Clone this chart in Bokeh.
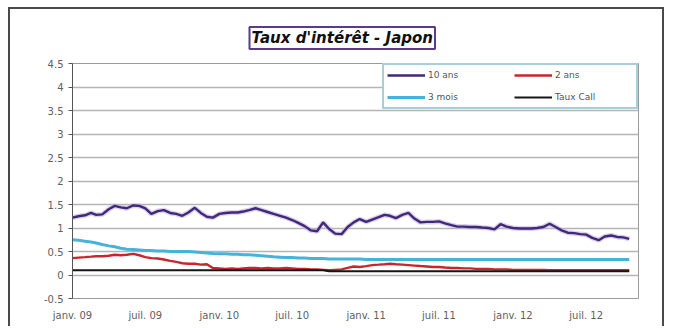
from datetime import datetime
from bokeh.plotting import figure
from bokeh.models import ColumnDataSource, FixedTicker, Legend, LegendItem, Title
from bokeh.embed import file_html
from bokeh.resources import INLINE

# ---------------- data ----------------
# semi-monthly observation dates, Jan 2009 .. Oct 2012
dates = []
for m in range(46):
    yy = 2009 + m // 12
    mm = m % 12 + 1
    dates.append(datetime(yy, mm, 1))
    dates.append(datetime(yy, mm, 16))

taux_10ans = [
    1.22, 1.25, 1.27, 1.32, 1.28, 1.29, 1.40, 1.47, 1.44, 1.42, 1.48, 1.47,
    1.42, 1.30, 1.36, 1.38, 1.32, 1.30, 1.26, 1.33, 1.43, 1.32, 1.24, 1.22,
    1.30, 1.32, 1.33, 1.33, 1.35, 1.38, 1.42, 1.38, 1.34, 1.30, 1.26, 1.22,
    1.17, 1.11, 1.04, 0.95, 0.93, 1.12, 0.98, 0.88, 0.87, 1.02, 1.12, 1.19,
    1.13, 1.18, 1.23, 1.28, 1.26, 1.21, 1.28, 1.32, 1.20, 1.12, 1.13, 1.13,
    1.14, 1.10, 1.06, 1.03, 1.03, 1.02, 1.02, 1.01, 1.00, 0.97, 1.08, 1.03,
    1.00, 0.99, 0.99, 0.99, 1.00, 1.02, 1.09, 1.02, 0.95, 0.90, 0.89, 0.87,
    0.86, 0.79, 0.74, 0.82, 0.84, 0.81, 0.80, 0.77,
]
taux_2ans = [
    0.36, 0.37, 0.38, 0.39, 0.40, 0.40, 0.41, 0.43, 0.42, 0.43, 0.45, 0.42,
    0.38, 0.36, 0.35, 0.33, 0.30, 0.28, 0.25, 0.24, 0.24, 0.22, 0.23, 0.15,
    0.14, 0.13, 0.14, 0.13, 0.14, 0.15, 0.15, 0.14, 0.15, 0.14, 0.14, 0.15,
    0.14, 0.13, 0.13, 0.12, 0.12, 0.11, 0.10, 0.11, 0.12, 0.15, 0.18, 0.17,
    0.19, 0.21, 0.22, 0.23, 0.24, 0.23, 0.22, 0.21, 0.20, 0.19, 0.18, 0.17,
    0.17, 0.16, 0.15, 0.15, 0.14, 0.14, 0.13, 0.13, 0.13, 0.12, 0.12, 0.12,
    0.11, 0.11, 0.11, 0.11, 0.11, 0.11, 0.10, 0.10, 0.10, 0.10, 0.10, 0.10,
    0.10, 0.10, 0.10, 0.10, 0.10, 0.10, 0.10, 0.10,
]
taux_3mois = [
    0.75, 0.74, 0.72, 0.70, 0.68, 0.65, 0.62, 0.60, 0.57, 0.55, 0.54, 0.53,
    0.52, 0.52, 0.51, 0.51, 0.50, 0.50, 0.50, 0.50, 0.49, 0.48, 0.47, 0.46,
    0.45, 0.45, 0.44, 0.44, 0.43, 0.43, 0.42, 0.41, 0.40, 0.39, 0.38, 0.37,
    0.37, 0.36, 0.36, 0.35, 0.35, 0.35, 0.34, 0.34, 0.34, 0.34, 0.34, 0.34,
    0.33, 0.33, 0.33, 0.33, 0.33, 0.33, 0.33, 0.33, 0.33, 0.33, 0.33, 0.33,
    0.33, 0.33, 0.33, 0.33, 0.33, 0.33, 0.33, 0.33, 0.33, 0.33, 0.33, 0.33,
    0.33, 0.33, 0.33, 0.33, 0.33, 0.33, 0.33, 0.33, 0.33, 0.33, 0.33, 0.33,
    0.33, 0.33, 0.33, 0.33, 0.33, 0.33, 0.33, 0.33,
]
taux_call = [
    0.10, 0.10, 0.10, 0.10, 0.10, 0.10, 0.10, 0.10, 0.10, 0.10, 0.10, 0.10,
    0.10, 0.10, 0.10, 0.10, 0.10, 0.10, 0.10, 0.10, 0.10, 0.10, 0.10, 0.10,
    0.10, 0.10, 0.10, 0.10, 0.10, 0.10, 0.10, 0.10, 0.10, 0.10, 0.10, 0.10,
    0.10, 0.10, 0.10, 0.10, 0.10, 0.10, 0.08, 0.08, 0.08, 0.08, 0.08, 0.08,
    0.08, 0.08, 0.08, 0.08, 0.08, 0.08, 0.08, 0.08, 0.08, 0.08, 0.08, 0.08,
    0.08, 0.08, 0.08, 0.08, 0.08, 0.08, 0.08, 0.08, 0.08, 0.08, 0.08, 0.08,
    0.08, 0.08, 0.08, 0.08, 0.08, 0.08, 0.08, 0.08, 0.08, 0.08, 0.08, 0.08,
    0.08, 0.08, 0.08, 0.08, 0.08, 0.08, 0.08, 0.08,
]

x_tick_dates = [datetime(2009, 1, 1), datetime(2009, 7, 1), datetime(2010, 1, 1),
                datetime(2010, 7, 1), datetime(2011, 1, 1), datetime(2011, 7, 1),
                datetime(2012, 1, 1), datetime(2012, 7, 1)]
x_tick_labels = ["janv. 09", "juil. 09", "janv. 10", "juil. 10",
                 "janv. 11", "juil. 11", "janv. 12", "juil. 12"]
y_tick_values = [-0.5, 0, 0.5, 1, 1.5, 2, 2.5, 3, 3.5, 4, 4.5]
y_tick_labels = ["-0.5", "0", "0.5", "1", "1.5", "2", "2.5", "3", "3.5", "4", "4.5"]

series_names = ["10 ans", "2 ans", "3 mois", "Taux Call"]
title_text = "Taux d'intérêt - Japon"

# ---------------- chart ----------------
EPOCH = datetime(1970, 1, 1)


def ms(d):
    return (d - EPOCH).total_seconds() * 1000.0


src = ColumnDataSource(dict(x=dates, t10=taux_10ans, t2=taux_2ans,
                            t3m=taux_3mois, call=taux_call))

FONT = "DejaVu Sans"

p = figure(width=656, height=319, x_axis_type="datetime",
           x_range=(ms(datetime(2009, 1, 1)), ms(datetime(2012, 11, 8))),
           y_range=(-0.5, 4.5), output_backend="svg", toolbar_location=None,
           min_border_left=62, min_border_right=28, min_border_top=54,
           min_border_bottom=30, background_fill_color="white",
           border_fill_color="white")
p.margin = (7, 0, 0, 8)
p.styles = {"border-top": "2px solid #4a4a4a", "border-left": "2px solid #4a4a4a",
            "border-right": "2px solid #4a4a4a"}

p.outline_line_color = "#9a9a9a"
p.outline_line_width = 1

# axes
p.xaxis.ticker = FixedTicker(ticks=[ms(d) for d in x_tick_dates])
p.xaxis.major_label_overrides = {ms(d): lab for d, lab in zip(x_tick_dates, x_tick_labels)}
p.xaxis.major_tick_line_color = None
p.xaxis.minor_tick_line_color = None
p.xaxis.axis_line_color = None
p.xaxis.major_label_text_font = FONT
p.xaxis.major_label_text_font_size = "10px"
p.xaxis.major_label_text_color = "#606060"
p.xaxis.major_label_standoff = 5

p.yaxis.ticker = FixedTicker(ticks=y_tick_values)
p.yaxis.major_label_overrides = {v: lab for v, lab in zip(y_tick_values, y_tick_labels)}
p.yaxis.major_tick_out = 4
p.yaxis.major_tick_in = 0
p.yaxis.minor_tick_line_color = None
p.yaxis.axis_line_color = "#555555"
p.yaxis.major_tick_line_color = "#555555"
p.yaxis.major_label_text_font = FONT
p.yaxis.major_label_text_font_size = "10px"
p.yaxis.major_label_text_color = "#606060"
p.yaxis.major_label_standoff = 5

p.xgrid.grid_line_color = None
p.ygrid.grid_line_color = "#b5b5b5"
p.ygrid.grid_line_width = 1.6

# lines
p.line("x", "t10", source=src, color="#c4b2e0", line_width=5, alpha=0.6)
r10 = p.line("x", "t10", source=src, color="#40287a", line_width=2.4)
r3m = p.line("x", "t3m", source=src, color="#46b3da", line_width=3)
r2 = p.line("x", "t2", source=src, color="#c8262e", line_width=2.4)
rc = p.line("x", "call", source=src, color="#151515", line_width=2)

legend = Legend(items=[LegendItem(label=series_names[0], renderers=[r10]),
                       LegendItem(label=series_names[2], renderers=[r3m]),
                       LegendItem(label=series_names[1], renderers=[r2]),
                       LegendItem(label=series_names[3], renderers=[rc])],
                location=(310, 189), orientation="vertical", nrows=2,
                border_line_color="#4aa0b8", border_line_width=2,
                background_fill_color="white", background_fill_alpha=1,
                label_text_font=FONT, label_text_font_size="9px",
                label_text_color="#555555", glyph_width=38, glyph_height=14,
                label_height=14, label_width=78, label_standoff=3,
                spacing=8, padding=3, margin=0)
p.add_layout(legend, "center")

title = Title(text=title_text, align="left", offset=177,
              text_font=FONT, text_font_size="15px", text_font_style="bold italic",
              text_color="#111111", border_line_color="#5b3a8c", border_line_width=2,
              background_fill_color="white", padding=2, standoff=29)
p.add_layout(title, "above")

open("out.html", "w").write(file_html(p, INLINE))
